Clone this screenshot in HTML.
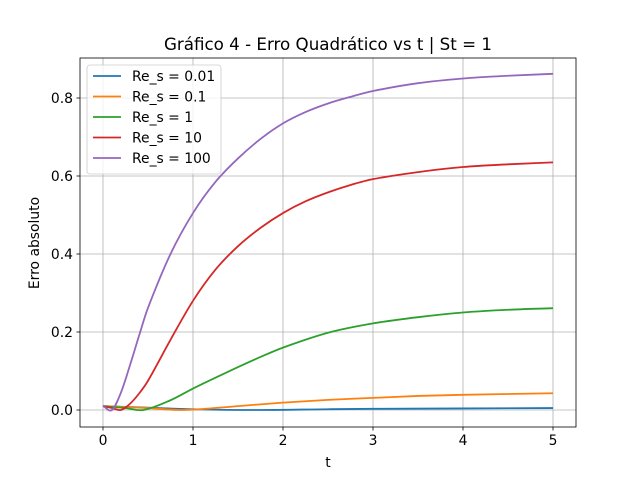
<!DOCTYPE html>
<html><head><meta charset="utf-8"><style>
body{margin:0;background:#fff;}
svg text{font-family:"DejaVu Sans","Liberation Sans",sans-serif;}
</style></head><body>
<svg id="chart" width="640" height="480" xmlns="http://www.w3.org/2000/svg">
<rect width="640" height="480" fill="#fff"/>
<text x="328" y="50" font-size="16.7" text-anchor="middle">Gráfico 4 - Erro Quadrático vs t | St = 1</text>
<g id="grid"></g><g id="series"></g><g id="axes"></g>
<text x="328" y="467" font-size="13.9" text-anchor="middle">t</text>
<text transform="translate(39,243) rotate(-90)" font-size="13.9" text-anchor="middle">Erro absoluto</text>
<g id="legend"></g>
</svg>
<script>
const xTicks=[0,1,2,3,4,5];
const yTicks=[0,0.2,0.4,0.6,0.8];
const yTickLabels=["0.0","0.2","0.4","0.6","0.8"];
const seriesNames=["Re_s = 0.01","Re_s = 0.1","Re_s = 1","Re_s = 10","Re_s = 100"];
const seriesColors=["#1f77b4","#ff7f0e","#2ca02c","#d62728","#9467bd"];
const tBlue=[0,0.5,1,1.7,2.5,3,4,5];
const vBlue=[0.01,0.006,0.002,0,0.002,0.003,0.004,0.005];
const tOrange=[0,0.5,0.9,1.5,2,2.5,3,3.5,4,4.5,5];
const vOrange=[0.01,0.005,0,0.01,0.019,0.026,0.031,0.036,0.039,0.041,0.043];
const tGreen=[0,0.25,0.45,0.75,1,1.25,1.5,1.75,2,2.5,3,3.5,4,4.5,5];
const vGreen=[0.01,0.005,0,0.025,0.055,0.083,0.11,0.136,0.16,0.198,0.222,0.238,0.25,0.257,0.261];
const tRed=[0,0.1,0.2,0.3,0.4,0.5,0.75,1,1.25,1.5,1.75,2,2.25,2.5,2.75,3,3.5,4,4.5,5];
const vRed=[0.01,0.005,0,0.016,0.042,0.075,0.18,0.28,0.36,0.42,0.467,0.505,0.535,0.558,0.577,0.592,0.61,0.623,0.63,0.635];
const tPurple=[0,0.1,0.2,0.3,0.4,0.5,0.75,1,1.25,1.5,1.75,2,2.25,2.5,2.75,3,3.5,4,4.5,5];
const vPurple=[0.01,0,0.045,0.115,0.19,0.262,0.4,0.505,0.585,0.645,0.695,0.735,0.764,0.786,0.803,0.818,0.838,0.85,0.857,0.862];
const allT=[tBlue,tOrange,tGreen,tRed,tPurple];
const allV=[vBlue,vOrange,vGreen,vRed,vPurple];
const NS="http://www.w3.org/2000/svg";
const L=80,R=576,T=58,B=427;
function X(t){return 103+t*90;}
function Y(v){return 410-v*390;}
function mk(tag,attrs,parent){const e=document.createElementNS(NS,tag);for(const k in attrs)e.setAttribute(k,attrs[k]);parent.appendChild(e);return e;}
const grid=document.getElementById('grid'),axes=document.getElementById('axes'),ser=document.getElementById('series'),leg=document.getElementById('legend');
xTicks.forEach(t=>{
 const g=mk('line',{x1:X(t),x2:X(t),y1:T,y2:B,stroke:'#b0b0b0','stroke-width':0.8},grid);
 
 
 mk('line',{x1:X(t),x2:X(t),y1:B,y2:B+3.5,stroke:'#000','stroke-width':0.8},axes);
 const tx=mk('text',{x:X(t),y:B+18,'font-size':13.9,'text-anchor':'middle'},axes);tx.textContent=t;
 
 
});
yTicks.forEach((v,i)=>{
 const g=mk('line',{x1:L,x2:R,y1:Y(v),y2:Y(v),stroke:'#b0b0b0','stroke-width':0.8},grid);
 
 
 mk('line',{x1:L-3.5,x2:L,y1:Y(v),y2:Y(v),stroke:'#000','stroke-width':0.8},axes);
 const tx=mk('text',{x:L-7,y:Y(v)+5,'font-size':13.9,'text-anchor':'end'},axes);tx.textContent=yTickLabels[i];
 
 
});
const fr=mk('rect',{x:L,y:T,width:R-L,height:B-T,fill:'none',stroke:'#000','stroke-width':0.8},axes);


function path(ts,vs){
 const p=ts.map((t,i)=>[X(t),Y(vs[i])]);
 let d='M'+p[0][0]+','+p[0][1];
 for(let i=0;i<p.length-1;i++){
  const p0=p[Math.max(0,i-1)],p1=p[i],p2=p[i+1],p3=p[Math.min(p.length-1,i+2)];
  const h=p2[0]-p1[0];
  const s1=(p2[1]-p0[1])/(p2[0]-p0[0]||1),s2=(p3[1]-p1[1])/(p3[0]-p1[0]||1);
  const c1=[p1[0]+h/3,p1[1]+s1*h/3],c2=[p2[0]-h/3,p2[1]-s2*h/3];
  d+=' C'+c1+' '+c2+' '+p2;
 }
 return d;
}
allT.forEach((ts,s)=>{
 const pa=mk('path',{d:path(ts,allV[s]),fill:'none',stroke:seriesColors[s],'stroke-width':1.8},ser);
 
 
});
const box=mk('rect',{x:87,y:65,width:134,height:109,rx:3,fill:'#fff','fill-opacity':0.8,stroke:'#ccc','stroke-width':0.8},leg);


seriesNames.forEach((n,i)=>{
 const y=76+i*20.5;
 mk('line',{x1:93,x2:121,y1:y,y2:y,stroke:seriesColors[i],'stroke-width':1.8},leg);
 const tx=mk('text',{x:132,y:y+5,'font-size':13.9},leg);tx.textContent=n;
 
 
});
</script>
</body></html>
